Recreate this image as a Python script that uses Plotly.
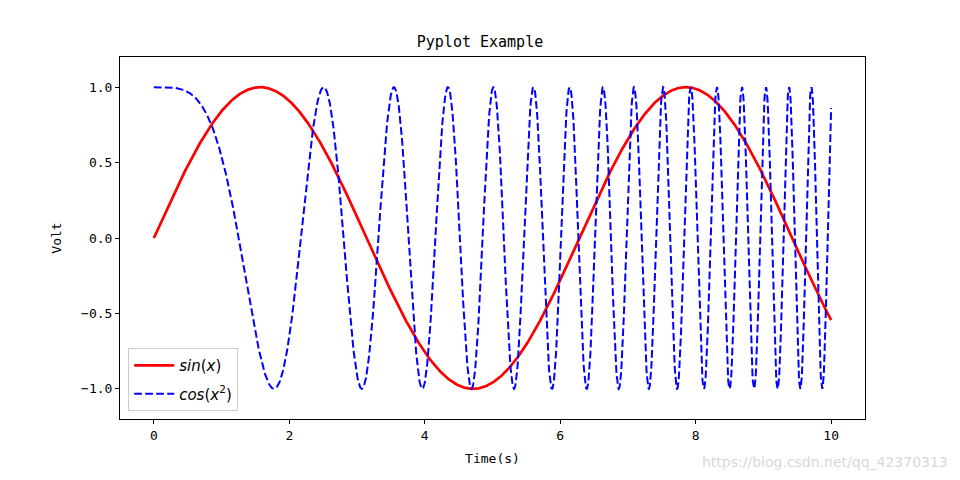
import numpy as np
import plotly.graph_objects as go

# Data: the chart plots sin(x) and cos(x^2) sampled on [0, 10]
x = np.linspace(0, 10, 2000)
y_sin = np.sin(x)
y_cos = np.cos(x ** 2)

title = "Pyplot Example"
xlabel = "Time(s)"
ylabel = "Volt"
xticks = [0, 2, 4, 6, 8, 10]
yticks = [-1.0, -0.5, 0.0, 0.5, 1.0]
ytick_labels = ["\u22121.0", "\u22120.5", "0.0", "0.5", "1.0"]
watermark = "https://blog.csdn.net/qq_42370313"

font_main = "DejaVu Sans Mono, Noto Sans CJK SC, monospace"

fig = go.Figure()
fig.add_trace(go.Scatter(x=x, y=y_sin, mode="lines", legendgroup="a",
                         line=dict(color="red", width=2.7),
                         name="<i>sin</i>(<i>x</i>)"))
fig.add_trace(go.Scatter(x=x, y=y_cos, mode="lines", legendgroup="b",
                         line=dict(color="blue", width=2, dash="7.7px,3.3px"),
                         name="<i>cos</i>(<i>x</i><sup>2</sup>)"))

axis_common = dict(showline=True, linecolor="black", linewidth=1, mirror=True,
                   ticks="outside", ticklen=4, tickcolor="black", tickwidth=1,
                   showgrid=False, zeroline=False,
                   tickfont=dict(family=font_main, size=13, color="black"))

fig.update_layout(
    width=960, height=480,
    margin=dict(l=120, r=95, t=57, b=61),
    paper_bgcolor="white", plot_bgcolor="white",
    title=dict(text=title, x=0.5, xanchor="center", y=1 - 42 / 480, yanchor="middle",
               font=dict(family=font_main, size=15, color="black")),
    xaxis=dict(range=[-0.5, 10.5], tickvals=xticks,
               title=dict(text=xlabel, font=dict(family=font_main, size=13, color="black"), standoff=12),
               **axis_common),
    yaxis=dict(range=[-1.2, 1.2], tickvals=yticks, ticktext=ytick_labels,
               title=dict(text=ylabel, font=dict(family=font_main, size=13, color="black"), standoff=16),
               **axis_common),
    legend=dict(x=0.011, y=0.022, xanchor="left", yanchor="bottom",
                bgcolor="rgba(255,255,255,0.8)", bordercolor="#cccccc", borderwidth=1,
                font=dict(family="DejaVu Sans", size=15, color="black"),
                tracegroupgap=6, itemwidth=40),
    showlegend=True,
)

fig.add_annotation(text=watermark, xref="paper", yref="paper",
                   x=(950 - 120) / 745, y=-(462 - 419) / 362,
                   xanchor="right", yanchor="middle", showarrow=False,
                   font=dict(family="DejaVu Sans", size=14, color="#d8d8d8"))

fig.write_html("out.html")
